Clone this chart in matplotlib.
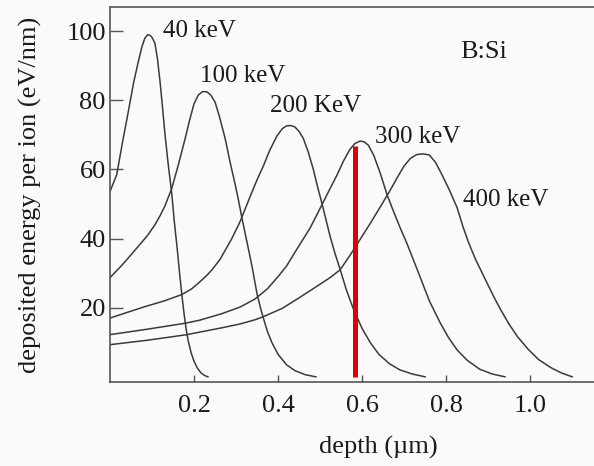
import numpy as np
from matplotlib import pyplot as plt

# depth (um) / deposited energy (eV/nm)
d40 = [0, 0.016, 0.03, 0.044, 0.056, 0.067, 0.076, 0.083, 0.09, 0.095, 0.1, 0.107, 0.113, 0.119, 0.125, 0.131, 0.139,
       0.147, 0.153, 0.16, 0.166, 0.171, 0.176, 0.181, 0.186, 0.193, 0.2, 0.208, 0.216, 0.225, 0.233]
e40 = [53.6, 58.5, 68, 77, 85, 91, 95.5, 98, 99, 98.8, 98.2, 96.5, 92, 85.5, 78, 70, 61,
       53, 45, 37, 29.5, 23.8, 18.5, 14, 10.5, 7, 4.5, 2.5, 1.2, 0.4, 0]

d100 = [0, 0.03, 0.067, 0.09, 0.107, 0.12, 0.131, 0.147, 0.163, 0.179, 0.19, 0.2, 0.21, 0.22, 0.23, 0.24, 0.25, 0.26,
        0.274, 0.286, 0.298, 0.306, 0.314, 0.326, 0.338, 0.35, 0.358, 0.365, 0.375, 0.385, 0.4, 0.42, 0.44, 0.465, 0.49]
e100 = [28.7, 32.5, 37.7, 41, 44, 46.8, 49.5, 54.5, 61.5, 69, 74.5, 79, 81.5, 82.5, 82.5, 81.5, 79.5, 75.5,
        69, 62, 55.6, 51, 46, 39, 32, 24, 20, 17, 13, 10, 6.5, 3.5, 1.8, 0.6, 0]

d200 = [0, 0.04, 0.083, 0.13, 0.171, 0.195, 0.214, 0.23, 0.243, 0.262, 0.276, 0.29, 0.31, 0.333, 0.35, 0.365, 0.38,
        0.397, 0.41, 0.42, 0.43, 0.44, 0.45, 0.46, 0.472, 0.484, 0.494, 0.504, 0.514, 0.524, 0.536, 0.548, 0.563,
        0.58, 0.6, 0.62, 0.64, 0.665, 0.69, 0.72, 0.75]
e200 = [17, 18.6, 20.3, 22, 23.8, 25.5, 27.5, 29.3, 31, 34, 37, 40, 45, 52, 57, 61, 65.5,
        69.6, 71.8, 72.6, 72.7, 72.3, 71, 69, 65, 60, 55, 50.4, 45.5, 40.6, 35.5, 31, 25,
        19.4, 14, 9.8, 6.5, 3.8, 2, 0.8, 0]

d300 = [0, 0.09, 0.179, 0.214, 0.267, 0.31, 0.345, 0.375, 0.4, 0.42, 0.44, 0.458, 0.476, 0.492, 0.507, 0.524, 0.54,
        0.556, 0.571, 0.583, 0.595, 0.605, 0.615, 0.628, 0.643, 0.66, 0.675, 0.69, 0.707, 0.72, 0.74, 0.76, 0.786,
        0.805, 0.826, 0.85, 0.88, 0.91, 0.94]
e300 = [12.2, 13.8, 15.5, 16.4, 18.3, 20.2, 22.5, 25.5, 29, 32, 36, 39.5, 43, 46.8, 50.4, 54.5, 58.3,
        62.5, 65.8, 67.5, 68.2, 68, 67, 64, 59, 52.5, 47.8, 43.3, 38.5, 34.5, 28.3, 22, 15.6,
        11.5, 7.8, 4.8, 2.2, 0.8, 0]

d400 = [0, 0.09, 0.183, 0.267, 0.31, 0.345, 0.365, 0.41, 0.452, 0.5, 0.525, 0.548, 0.572, 0.595, 0.62, 0.645, 0.667,
        0.683, 0.7, 0.715, 0.73, 0.745, 0.76, 0.775, 0.79, 0.808, 0.826, 0.84, 0.853, 0.87, 0.886, 0.9, 0.915, 0.93,
        0.95, 0.97, 0.995, 1.02, 1.05, 1.075, 1.1]
e400 = [9.3, 10.6, 12.2, 14.2, 15.3, 16.5, 17.4, 19.8, 23, 26.8, 28.8, 31, 35.3, 39.7, 44.5, 49.5, 54,
        57.5, 61, 63.2, 64.3, 64.5, 64.2, 62, 58.5, 54, 49, 43.5, 39, 34, 30, 26.5, 22.8, 19.4,
        15.2, 11.6, 8, 5, 2.6, 1.1, 0]

curves = [(d40, e40), (d100, e100), (d200, e200), (d300, e300), (d400, e400)]

labels = ['40 keV', '100 keV', '200 KeV', '300 keV', '400 keV']
label_x = [0.126, 0.214, 0.38, 0.631, 0.84]
label_y = [100, 87, 78.3, 69.3, 51.3]

red_depth = 0.583
red_top = 66.7

plt.rcParams['font.family'] = ['Liberation Serif', 'DejaVu Serif']

fig = plt.figure(figsize=(5.94, 4.66), dpi=100, facecolor='#fcf9fc')
ax = fig.add_axes([110/594, 1-382/466, 1-110/594, 375/466])
ax.set_facecolor('#fcf9fc')

for d, e in curves:
    ax.plot(d, e, color='#3a3a3a', lw=1.1)

ax.plot([red_depth, red_depth], [0, red_top], color='#e00000', lw=3.6, solid_capstyle='butt')

for t, x, y in zip(labels, label_x, label_y):
    ax.text(x, y, t, fontsize=18, ha='left', va='center', color='#1a1a1a')
ax.text(0.833, 94, 'B:Si', fontsize=19, ha='left', va='center', color='#1a1a1a')

ax.set_xlim(0, 1.152)
ax.set_ylim(-1.5, 107)
ax.set_xticks([0.2, 0.4, 0.6, 0.8, 1.0])
ax.set_xticklabels(['0.2', '0.4', '0.6', '0.8', '1.0'])
ax.set_yticks([20, 40, 60, 80, 100])
ax.tick_params(axis='y', direction='in', length=9, width=1, pad=3, labelsize=19, color='#555555', labelcolor='#1a1a1a')
ax.tick_params(axis='x', direction='in', length=5, width=1, pad=9, labelsize=19, color='#555555', labelcolor='#1a1a1a')

ax.spines['right'].set_visible(False)
for s in ['left', 'bottom', 'top']:
    ax.spines[s].set_color('#555555')
    ax.spines[s].set_linewidth(1.2)

ax.set_xlabel('depth (µm)', fontsize=19, color='#1a1a1a')
ax.xaxis.set_label_coords(0.554, -0.145)
ax.set_ylabel('deposited energy per ion (eV/nm)', fontsize=19, color='#1a1a1a')
ax.yaxis.set_label_coords(-0.14, 0.5)

plt.savefig('out.png', dpi=100, facecolor=fig.get_facecolor())
